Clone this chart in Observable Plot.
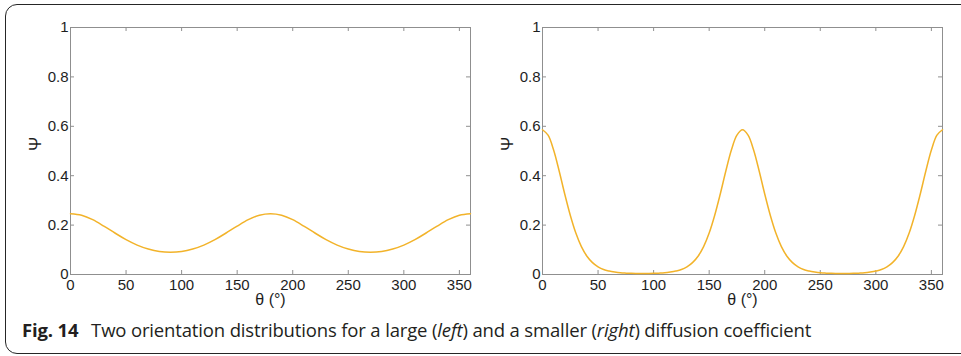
<!DOCTYPE html>
<html>
<head>
<meta charset="utf-8">
<script src="https://cdn.jsdelivr.net/npm/d3@7"></script>
<script src="https://cdn.jsdelivr.net/npm/@observablehq/plot@0.6"></script>
<style>
  html, body { margin: 0; padding: 0; background: #fff; }
  #wrap { position: relative; width: 961px; height: 356px; overflow: hidden; background: #fff; }
  #box { position: absolute; left: 5px; top: 4px; width: 968px; height: 350px; border: 1.5px solid #262626; border-radius: 12px; box-sizing: border-box; }
  .panel { position: absolute; top: 0; }
  #caption { position: absolute; left: 22px; top: 317px; font-family: "Open Sans", "Noto Sans", sans-serif; font-size: 18.5px; color: #231f20; white-space: nowrap; letter-spacing: -0.15px; }
  #caption b { font-weight: 700; margin-right: 8px; }
</style>
</head>
<body>
<div id="wrap">
  <div id="box"></div>
  <div id="left" class="panel" style="left:0px"></div>
  <div id="right" class="panel" style="left:472px"></div>
  <div id="caption"><b>Fig. 14</b> Two orientation distributions for a large (<i>left</i>) and a smaller (<i>right</i>) diffusion coefficient</div>
</div>
<script>
// ---- data ----
const thetaL = [0,10,20,30,40,50,60,70,80,90,100,110,120,130,140,150,160,170,180,190,200,210,220,230,240,250,260,270,280,290,300,310,320,330,340,350,360];
const psiL = [0.246,0.240,0.222,0.196,0.168,0.141,0.119,0.103,0.093,0.090,
              0.093,0.103,0.119,0.141,0.168,0.196,0.222,0.240,0.246,
              0.240,0.222,0.196,0.168,0.141,0.119,0.103,0.093,0.090,
              0.093,0.103,0.119,0.141,0.168,0.196,0.222,0.240,0.246];

const thetaR = d3.range(0, 361, 5);
const psiR = [0.586,0.564,0.504,0.419,0.326,0.240,0.168,0.113,0.074,0.048,0.031,0.020,0.014,0.010,0.007,0.0055,0.0046,0.0041,0.0039,
              0.0041,0.0046,0.0055,0.007,0.010,0.014,0.020,0.031,0.048,0.074,0.113,0.168,0.240,0.326,0.419,0.504,0.564,0.586,
              0.564,0.504,0.419,0.326,0.240,0.168,0.113,0.074,0.048,0.031,0.020,0.014,0.010,0.007,0.0055,0.0046,0.0041,0.0039,
              0.0041,0.0046,0.0055,0.007,0.010,0.014,0.020,0.031,0.048,0.074,0.113,0.168,0.240,0.326,0.419,0.504,0.564,0.586];

const xTicks = [0,50,100,150,200,250,300,350];
const yTicks = [0,0.2,0.4,0.6,0.8,1];
const xLabel = "θ (°)";
const yLabel = "Ψ";

const lineColor = "#f2b32a";
const frameColor = "#8f8f8f";
const textColor = "#1e1e1e";

const W = 480, H = 320, ML = 70, MR = 10, MT = 27, MB = 46;
const TICK = 4;
const innerW = W - ML - MR, innerH = H - MT - MB;

function panel(thetas, psis) {
  const data = thetas.map((t, i) => ({theta: t, psi: psis[i]}));
  return Plot.plot({
    width: W,
    height: H,
    marginLeft: ML,
    marginRight: MR,
    marginTop: MT,
    marginBottom: MB,
    style: {fontFamily: "'Liberation Sans', Arial, sans-serif", fontSize: "15px", color: textColor, background: "transparent", overflow: "visible"},
    x: {domain: [0, 360], axis: null},
    y: {domain: [0, 1], axis: null},
    marks: [
      Plot.frame({stroke: frameColor, strokeWidth: 1}),
      // inward ticks on all four sides
      Plot.ruleX(xTicks, {x: d => d, stroke: frameColor, insetTop: innerH - TICK}),
      Plot.ruleX(xTicks, {x: d => d, stroke: frameColor, insetBottom: innerH - TICK}),
      Plot.ruleY(yTicks, {y: d => d, stroke: frameColor, insetRight: innerW - TICK}),
      Plot.ruleY(yTicks, {y: d => d, stroke: frameColor, insetLeft: innerW - TICK}),
      // tick labels
      Plot.axisX({ticks: xTicks, anchor: "bottom", tickSize: 0, tickPadding: 5, fill: textColor, tickFormat: d => String(d), label: null}),
      Plot.axisY({ticks: yTicks, anchor: "left", tickSize: 0, tickPadding: 2, fill: textColor, tickFormat: d => String(d), label: null}),
      Plot.line(data, {x: "theta", y: "psi", stroke: lineColor, strokeWidth: 1.5, curve: "catmull-rom"}),
      Plot.text([xLabel], {frameAnchor: "bottom", dy: 30, fontSize: 16, fill: textColor}),
      Plot.text([yLabel], {frameAnchor: "left", dx: -35, rotate: -90, fontSize: 17, fill: textColor})
    ]
  });
}

document.getElementById("left").appendChild(panel(thetaL, psiL));
document.getElementById("right").appendChild(panel(thetaR, psiR));
</script>
</body>
</html>
